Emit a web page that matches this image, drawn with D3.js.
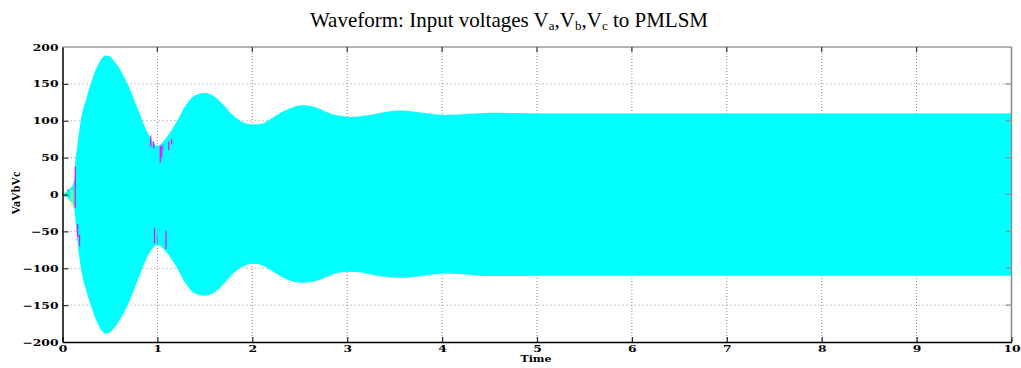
<!DOCTYPE html>
<html>
<head>
<meta charset="utf-8">
<script src="https://cdn.jsdelivr.net/npm/d3@7"></script>
<style>
  body { margin: 0; background: #fff; }
  svg { display: block; }
  .tick text { font-family: "DejaVu Serif", serif; font-weight: bold; font-size: 9.5px; fill: #000; }
</style>
</head>
<body>
<div id="chart"></div>
<script>
// envelope of the three-phase input voltages
const envTime  = [0, 0.04, 0.08, 0.11, 0.125, 0.135, 0.15, 0.2, 0.25, 0.3, 0.35, 0.4, 0.45, 0.5, 0.55, 0.6, 0.7, 0.8, 0.9, 1.0,
                  1.1, 1.2, 1.3, 1.4, 1.5, 1.6, 1.7, 1.8, 1.9, 2.0, 2.1, 2.2, 2.3, 2.4, 2.52, 2.65, 2.8, 2.9, 3.05, 3.2,
                  3.35, 3.55, 3.8, 4.05, 4.3, 4.5, 4.75, 5.0, 5.5, 6, 7, 8, 9, 10];
const envUpper = [0, 3, 8, 14, 22, 44, 60, 106, 130, 151, 169, 182, 188.5, 187, 180, 171, 146, 114, 83, 66,
                  78, 98, 121, 134.5, 137.5, 133, 121, 107, 98, 95, 96, 103, 111, 117, 121, 119, 111, 107, 105, 107,
                  111, 114, 111, 108, 109.5, 111, 110.5, 110, 110, 110, 110, 110, 110, 110];
const envLower = [0, -3, -8, -14, -20, -34, -55, -104, -130, -151, -169, -182, -188.5, -187, -180, -171, -146, -114, -83, -68,
                  -79, -98, -121, -134.5, -137, -133, -121, -107, -98, -94, -96, -103, -111, -117, -119.6, -118, -111, -106, -104.7, -107,
                  -111, -113, -110, -107, -109, -110.5, -110.5, -110, -110, -110, -110, -110, -110, -110];

// stray phase samples that poke out of the band
const spikeTime  = [0.93, 0.96, 1.03, 1.045, 1.12, 1.15, 0.97, 1.09, 1.0, 0.135, 0.1, 0.16, 0.18, 1.06];
const spikeFrom  = [80, 72, 66, 66, 72, 75, -66, -74, -66, 38, 6, -40, -55, 68];
const spikeTo    = [65, 62, 43, 50, 60, 68, -46, -49, -56, -18, -16, -58, -70, 60];
const spikeColor = ["#ff00ff", "#ff00ff", "#ff00ff", "#ff00ff", "#ff00ff", "#ff00ff", "#ff00ff", "#ff00ff", "#8080ff",
                    "#ff00ff", "#ffff00", "#ff00ff", "#ff00ff", "#8080ff"];

// early wiggles before the band opens up
const wiggleTime = [0, 0.03, 0.06, 0.09, 0.12];
const wiggleA    = [0, 4, -6, 10, -14];
const wiggleB    = [0, -3, 7, -10, 16];

const xTicks = [0, 1, 2, 3, 4, 5, 6, 7, 8, 9, 10];
const yTicks = [-200, -150, -100, -50, 0, 50, 100, 150, 200];

const W = 1021, H = 368;
const margin = { top: 47, right: 10, bottom: 26, left: 62.5 };
const width = 1011.5 - margin.left;
const height = 342 - margin.top;

const svg = d3.select("#chart").append("svg")
  .attr("width", W)
  .attr("height", H);

const x = d3.scaleLinear().domain([0, 10]).range([0, width]);
const y = d3.scaleLinear().domain([-200, 200]).range([height, 0]);

const chart = svg.append("g")
  .attr("transform", `translate(${margin.left}, ${margin.top})`);

// dotted grid
chart.append("g").selectAll("line.gx")
  .data(xTicks.slice(1, -1))
  .enter().append("line")
  .attr("x1", d => x(d)).attr("x2", d => x(d))
  .attr("y1", 0).attr("y2", height)
  .attr("stroke", "#8a8a8a").attr("stroke-width", 1)
  .attr("stroke-dasharray", "1,2");

chart.append("g").selectAll("line.gy")
  .data(yTicks.slice(1, -1))
  .enter().append("line")
  .attr("x1", 0).attr("x2", width)
  .attr("y1", d => y(d)).attr("y2", d => y(d))
  .attr("stroke", "#8a8a8a").attr("stroke-width", 1)
  .attr("stroke-dasharray", "1,3");

// early wiggle lines
const wiggleLine = d3.line().x((d, i) => x(wiggleTime[i])).y(d => y(d));
chart.append("path").datum(wiggleA).attr("d", wiggleLine)
  .attr("fill", "none").attr("stroke", "#ffff00").attr("stroke-width", 1);
chart.append("path").datum(wiggleB).attr("d", wiggleLine)
  .attr("fill", "none").attr("stroke", "#ff00ff").attr("stroke-width", 1);

// the voltage band
const band = d3.area()
  .x((d, i) => x(envTime[i]))
  .y0((d, i) => y(envLower[i]))
  .y1((d, i) => y(envUpper[i]))
  .curve(d3.curveMonotoneX);

chart.append("path")
  .datum(envTime)
  .attr("d", band)
  .attr("fill", "#00ffff");

chart.append("g").selectAll("line.spike")
  .data(spikeTime)
  .enter().append("line")
  .attr("x1", d => x(d)).attr("x2", d => x(d))
  .attr("y1", (d, i) => y(spikeFrom[i]))
  .attr("y2", (d, i) => y(spikeTo[i]))
  .attr("stroke", (d, i) => spikeColor[i])
  .attr("stroke-width", 1.2);

// frame: top / right grey, left / bottom black
chart.append("line").attr("x1", 0).attr("x2", width).attr("y1", 0).attr("y2", 0)
  .attr("stroke", "#b4b4b4").attr("stroke-width", 2);
chart.append("line").attr("x1", width).attr("x2", width).attr("y1", 0).attr("y2", height)
  .attr("stroke", "#8c8c8c").attr("stroke-width", 1.5);

// tick marks on the top and right
chart.append("g").selectAll("line.tt")
  .data(xTicks.slice(1, -1))
  .enter().append("line")
  .attr("x1", d => x(d)).attr("x2", d => x(d))
  .attr("y1", 0).attr("y2", 5)
  .attr("stroke", "#333").attr("stroke-width", 1.2);
chart.append("g").selectAll("line.rt")
  .data(yTicks.slice(1, -1))
  .enter().append("line")
  .attr("x1", width).attr("x2", width - 6)
  .attr("y1", d => y(d)).attr("y2", d => y(d))
  .attr("stroke", "#8c8c8c").attr("stroke-width", 1.2);

// axes
const xAxis = chart.append("g")
  .attr("transform", `translate(0, ${height})`)
  .call(d3.axisBottom(x).tickValues(xTicks).tickSizeInner(-5).tickSizeOuter(0).tickPadding(3));
xAxis.select(".domain").attr("stroke", "#000").attr("stroke-width", 1.5);
xAxis.selectAll(".tick line").attr("stroke", "#222").attr("stroke-width", 1.2);
xAxis.selectAll(".tick text")
  .attr("dy", "0.75em")
  .attr("y", 3)
  .attr("x", 0)
  .attr("transform", "scale(1.3,1)");

const yAxis = chart.append("g")
  .call(d3.axisLeft(y).tickValues(yTicks).tickSizeInner(-6).tickSizeOuter(0).tickPadding(3));
yAxis.select(".domain").attr("stroke", "#000").attr("stroke-width", 1.5);
yAxis.selectAll(".tick line").attr("stroke", "#333").attr("stroke-width", 1.2)
  .attr("display", d => (d === 200 || d === -200) ? "none" : null);
yAxis.selectAll(".tick text")
  .attr("x", -4 / 1.3)
  .attr("transform", "scale(1.3,1)");

// labels
svg.append("text")
  .attr("x", 509)
  .attr("y", 27)
  .attr("text-anchor", "middle")
  .attr("font-family", "Liberation Serif, Times New Roman, serif")
  .attr("font-size", 21)
  .html('Waveform: Input voltages V<tspan font-size="13" dy="3">a</tspan><tspan dy="-3">,V</tspan><tspan font-size="13" dy="3">b</tspan><tspan dy="-3">,V</tspan><tspan font-size="13" dy="3">c</tspan><tspan dy="-3"> to PMLSM</tspan>');

svg.append("text")
  .attr("transform", `translate(19.5, 193) rotate(-90)`)
  .attr("text-anchor", "middle")
  .attr("font-family", "Liberation Serif, serif")
  .attr("font-weight", "bold")
  .attr("font-size", 12)
  .text("VaVbVc");

svg.append("text")
  .attr("transform", `translate(536, 362) scale(1.3,1)`)
  .attr("text-anchor", "middle")
  .attr("font-family", "DejaVu Serif, serif")
  .attr("font-weight", "bold")
  .attr("font-size", 8.5)
  .text("Time");
</script>
</body>
</html>
